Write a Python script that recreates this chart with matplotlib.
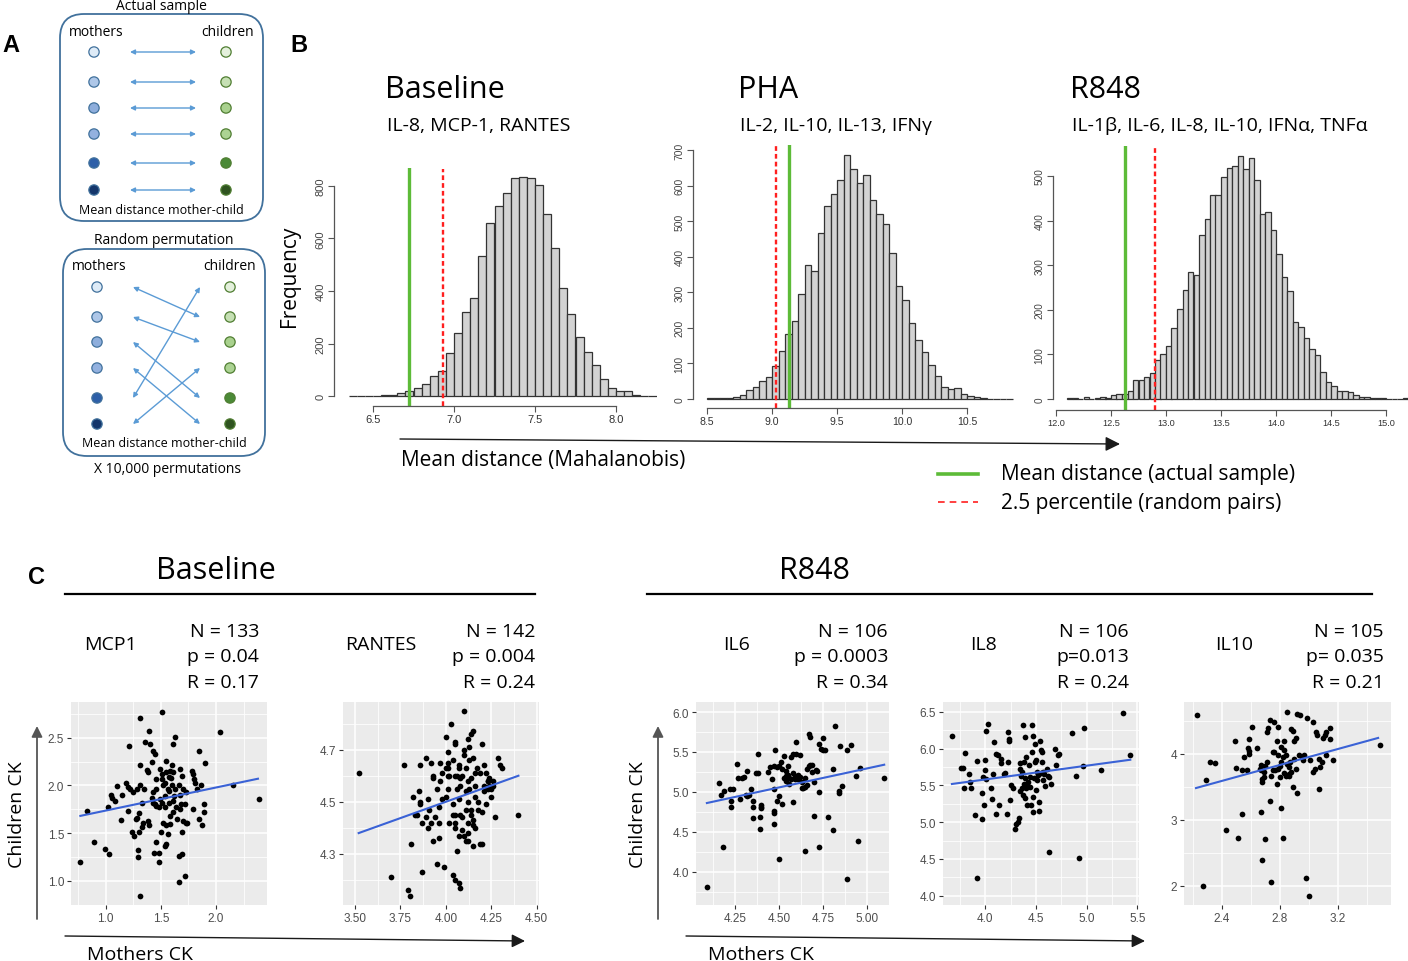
import numpy as np
import matplotlib.pyplot as plt
from matplotlib.patches import FancyBboxPatch
from matplotlib.ticker import AutoMinorLocator

# ---------------- panel B: permutation histograms (bin width 0.05) ----------------
bin_w = 0.05

base_start = 6.35
base_counts = [0, 0, 0, 1, 2, 4, 10, 20, 32, 45, 78, 97, 165, 240, 320, 372, 535, 660, 722, 772,
               830, 836, 832, 805, 692, 565, 410, 312, 226, 167, 120, 63, 30, 20, 20, 5, 0, 0]
base_green, base_red = 6.72, 6.93

pha_start = 8.50
pha_counts = [2, 2, 4, 4, 6, 12, 25, 33, 50, 62, 92, 135, 182, 220, 295, 377, 360, 467, 543, 575,
              615, 685, 648, 607, 630, 560, 520, 493, 410, 317, 277, 215, 167, 132, 97, 65, 35, 28,
              30, 14, 9, 6, 2, 1, 1, 1, 1]
pha_green, pha_red = 9.13, 9.03

r848_start = 12.10
r848_counts = [1, 1, 0, 4, 0, 2, 4, 3, 8, 11, 12, 18, 42, 42, 48, 59, 88, 100, 118, 160,
               202, 244, 285, 278, 367, 404, 458, 457, 498, 519, 522, 545, 516, 540, 490, 415, 419,
               378, 325, 274, 241, 172, 162, 137, 112, 98, 60, 38, 29, 17, 17, 15, 9, 4, 4, 2, 1,
               2, 0, 0, 0, 1]
r848_green, r848_red = 12.63, 12.90

# ---------------- panel C: mother vs child cytokines ----------------
mcp1_m = [0.77, 0.83, 0.89, 0.99, 1.03, 1.02, 1.05, 1.06, 1.08, 1.10,
          1.15, 1.14, 1.18, 1.20, 1.21, 1.22, 1.20, 1.24, 1.25, 1.26,
          1.27, 1.28, 1.28, 1.29, 1.29, 1.30, 1.31, 1.31, 1.31, 1.31,
          1.30, 1.33, 1.35, 1.36, 1.39, 1.37, 1.38, 1.38, 1.39, 1.40,
          1.42, 1.43, 1.43, 1.44, 1.45, 1.46, 1.46, 1.46, 1.48, 1.48,
          1.49, 1.50, 1.51, 1.51, 1.51, 1.52, 1.54, 1.54, 1.52, 1.55,
          1.55, 1.55, 1.56, 1.57, 1.57, 1.54, 1.55, 1.56, 1.58, 1.58,
          1.59, 1.58, 1.60, 1.61, 1.61, 1.62, 1.63, 1.63, 1.64, 1.65,
          1.66, 1.67, 1.67, 1.66, 1.66, 1.68, 1.69, 1.69, 1.70, 1.70,
          1.72, 1.73, 1.73, 1.74, 1.78, 1.79, 1.79, 1.80, 1.81, 1.83,
          1.85, 1.85, 1.86, 1.87, 1.89, 1.89, 1.90, 2.04, 2.15, 2.39,
          1.43, 1.46, 1.49, 1.42, 1.61, 1.60, 1.54, 1.51, 1.45, 1.48,
          1.57, 1.61, 1.67, 1.72, 1.34, 1.33, 1.69]
mcp1_c = [1.20, 1.73, 1.41, 1.33, 1.28, 1.77, 1.90, 1.87, 1.84, 1.99,
          1.90, 1.64, 2.02, 1.98, 2.41, 1.96, 1.73, 1.51, 1.93, 1.47,
          1.65, 1.96, 1.66, 1.32, 1.25, 1.71, 2.71, 2.21, 2.00, 0.84,
          1.51, 1.82, 1.96, 2.46, 2.57, 2.16, 2.14, 1.63, 1.58, 2.43,
          2.25, 2.36, 1.82, 1.29, 2.33, 2.07, 1.78, 1.41, 1.29, 1.20,
          2.17, 1.51, 2.12, 2.77, 2.07, 2.00, 2.03, 1.89, 1.61, 1.58,
          2.26, 2.14, 1.96, 2.09, 1.82, 1.36, 1.39, 1.49, 1.68, 2.15,
          2.08, 1.59, 2.00, 1.72, 2.43, 1.89, 2.51, 1.96, 1.77, 1.65,
          2.00, 2.17, 1.90, 1.26, 0.99, 1.80, 1.28, 1.51, 1.63, 1.96,
          1.05, 1.61, 1.93, 1.61, 2.15, 2.12, 1.75, 2.07, 2.03, 1.96,
          2.36, 1.65, 2.00, 1.58, 1.80, 1.72, 2.23, 2.56, 2.00, 1.86,
          1.93, 1.96, 1.86, 1.87, 2.14, 2.21, 1.77, 1.82, 1.80, 1.77,
          1.94, 1.84, 1.75, 1.80, 1.61, 1.56, 2.10]
mcp1_fit_x, mcp1_fit_y = [0.77, 2.38], [1.68, 2.07]

rantes_m = [3.52, 3.70, 3.77, 3.79, 3.80, 3.81, 3.82, 3.83, 3.84, 3.85,
            3.86, 3.86, 3.86, 3.87, 3.87, 3.89, 3.89, 3.90, 3.90, 3.91,
            3.92, 3.92, 3.93, 3.93, 3.93, 3.94, 3.95, 3.95, 3.96, 3.96,
            3.96, 3.97, 3.97, 3.98, 3.98, 3.99, 4.00, 4.00, 4.00, 4.01,
            4.01, 4.01, 4.01, 4.01, 4.02, 4.02, 4.03, 4.04, 4.04, 4.04,
            4.04, 4.05, 4.05, 4.05, 4.05, 4.05, 4.05, 4.05, 4.06, 4.06,
            4.06, 4.07, 4.07, 4.07, 4.07, 4.07, 4.08, 4.08, 4.08, 4.08,
            4.09, 4.09, 4.09, 4.10, 4.10, 4.10, 4.10, 4.11, 4.11, 4.11,
            4.11, 4.12, 4.12, 4.12, 4.12, 4.12, 4.12, 4.13, 4.13, 4.13,
            4.14, 4.14, 4.14, 4.14, 4.15, 4.15, 4.15, 4.15, 4.15, 4.16,
            4.16, 4.16, 4.16, 4.17, 4.18, 4.18, 4.19, 4.19, 4.20, 4.20,
            4.20, 4.21, 4.21, 4.21, 4.22, 4.22, 4.23, 4.23, 4.23, 4.24,
            4.24, 4.25, 4.25, 4.26, 4.26, 4.27, 4.29, 4.30, 4.31, 4.40]
rantes_c = [4.61, 4.21, 4.64, 4.16, 4.14, 4.34, 4.52, 4.45, 4.45, 4.54,
            4.64, 4.50, 4.49, 4.42, 4.23, 4.67, 4.44, 4.51, 4.40, 4.47,
            4.65, 4.42, 4.60, 4.59, 4.35, 4.44, 4.55, 4.26, 4.48, 4.42,
            4.36, 4.58, 4.65, 4.61, 4.51, 4.25, 4.52, 4.63, 4.75, 4.69,
            4.60, 4.65, 4.55, 4.63, 4.42, 4.60, 4.80, 4.49, 4.22, 4.66,
            4.45, 4.73, 4.60, 4.40, 4.45, 4.20, 4.72, 4.42, 4.55, 4.60,
            4.31, 4.37, 4.63, 4.19, 4.51, 4.64, 4.59, 4.17, 4.45, 4.56,
            4.39, 4.60, 4.44, 4.37, 4.70, 4.85, 4.68, 4.54, 4.47, 4.63,
            4.35, 4.58, 4.50, 4.38, 4.42, 4.74, 4.35, 4.71, 4.66, 4.55,
            4.47, 4.76, 4.59, 4.45, 4.67, 4.33, 4.77, 4.43, 4.41, 4.52,
            4.40, 4.56, 4.61, 4.63, 4.50, 4.47, 4.34, 4.61, 4.46, 4.34,
            4.72, 4.56, 4.64, 4.54, 4.61, 4.49, 4.58, 4.55, 4.58, 4.59,
            4.56, 4.55, 4.52, 4.56, 4.58, 4.44, 4.67, 4.64, 4.63, 4.45]
rantes_fit_x, rantes_fit_y = [3.52, 4.40], [4.38, 4.60]

il6_m = [4.09, 4.16, 4.17, 4.18, 4.19, 4.22, 4.23, 4.23, 4.24, 4.26,
         4.27, 4.28, 4.29, 4.30, 4.31, 4.32, 4.32, 4.33, 4.34, 4.35,
         4.35, 4.35, 4.37, 4.38, 4.38, 4.39, 4.39, 4.40, 4.40, 4.40,
         4.44, 4.45, 4.46, 4.47, 4.47, 4.47, 4.47, 4.47, 4.48, 4.49,
         4.49, 4.50, 4.50, 4.50, 4.51, 4.52, 4.52, 4.53, 4.53, 4.54,
         4.54, 4.54, 4.55, 4.55, 4.56, 4.56, 4.57, 4.57, 4.58, 4.58,
         4.58, 4.59, 4.59, 4.60, 4.60, 4.61, 4.61, 4.62, 4.62, 4.63,
         4.63, 4.64, 4.65, 4.65, 4.65, 4.66, 4.66, 4.67, 4.67, 4.68,
         4.68, 4.69, 4.69, 4.70, 4.70, 4.71, 4.72, 4.73, 4.73, 4.73,
         4.74, 4.75, 4.75, 4.76, 4.78, 4.81, 4.81, 4.82, 4.84, 4.84,
         4.85, 4.86, 4.89, 4.89, 4.91, 4.94, 4.95, 4.96, 5.10]
il6_c = [3.81, 5.11, 4.96, 4.31, 5.01, 5.03, 4.88, 4.81, 5.04, 5.35,
         5.17, 4.91, 5.17, 5.18, 4.96, 5.26, 4.95, 4.96, 5.04, 4.89,
         4.81, 4.67, 5.24, 5.48, 5.23, 4.68, 4.54, 4.81, 4.84, 4.80,
         5.25, 5.31, 5.16, 5.03, 4.60, 4.76, 4.74, 5.32, 5.53, 4.88,
         5.31, 4.16, 4.95, 5.32, 5.37, 4.85, 5.29, 5.45, 5.17, 5.20,
         5.26, 5.13, 5.21, 5.32, 5.17, 5.10, 5.44, 5.16, 5.48, 4.87,
         5.23, 5.20, 5.16, 5.48, 5.63, 5.16, 5.21, 5.18, 5.46, 5.05,
         5.12, 5.05, 5.17, 4.26, 5.06, 5.09, 5.29, 5.72, 5.32, 5.69,
         5.34, 5.25, 5.34, 5.12, 4.70, 5.27, 5.26, 5.60, 4.31, 5.00,
         5.54, 5.68, 5.52, 5.53, 4.68, 5.29, 4.52, 5.82, 5.01, 4.99,
         5.57, 5.07, 5.52, 3.91, 5.59, 5.20, 4.38, 5.30, 5.17]
il6_fit_x, il6_fit_y = [4.09, 5.10], [4.86, 5.34]

il8_m = [3.67, 3.76, 3.78, 3.79, 3.80, 3.84, 3.85, 3.86, 3.90, 3.92,
         3.92, 3.97, 3.97, 3.98, 3.99, 4.00, 4.00, 4.01, 4.01, 4.03,
         4.06, 4.07, 4.08, 4.09, 4.10, 4.10, 4.12, 4.13, 4.15, 4.15,
         4.18, 4.19, 4.21, 4.22, 4.22, 4.23, 4.23, 4.24, 4.25, 4.27,
         4.29, 4.30, 4.32, 4.33, 4.34, 4.34, 4.34, 4.35, 4.36, 4.36,
         4.37, 4.37, 4.38, 4.38, 4.39, 4.39, 4.39, 4.40, 4.40, 4.41,
         4.41, 4.42, 4.43, 4.44, 4.44, 4.45, 4.46, 4.46, 4.47, 4.47,
         4.47, 4.48, 4.49, 4.49, 4.50, 4.50, 4.51, 4.51, 4.52, 4.53,
         4.53, 4.54, 4.55, 4.55, 4.56, 4.56, 4.57, 4.57, 4.58, 4.59,
         4.61, 4.62, 4.63, 4.63, 4.65, 4.69, 4.70, 4.72, 4.73, 4.85,
         4.89, 4.92, 4.96, 4.97, 5.14, 5.36, 5.43]
il8_c = [6.17, 5.74, 5.74, 5.46, 5.94, 5.65, 5.55, 5.46, 5.10, 4.24,
         5.83, 5.05, 5.40, 5.61, 5.23, 5.85, 5.71, 5.59, 6.24, 6.34,
         5.46, 5.32, 5.65, 6.09, 5.11, 5.93, 5.91, 5.23, 5.86, 5.80,
         5.66, 5.67, 5.11, 5.82, 6.23, 6.10, 6.13, 5.30, 5.51, 5.46,
         4.91, 4.98, 5.00, 5.06, 5.80, 5.43, 5.73, 5.63, 5.68, 5.46,
         6.32, 5.37, 5.52, 5.82, 5.33, 6.16, 5.60, 5.89, 5.46, 5.23,
         5.50, 5.55, 5.78, 5.61, 5.48, 5.23, 6.32, 5.96, 6.18, 5.34,
         5.14, 5.60, 6.06, 5.82, 5.44, 5.84, 5.68, 5.57, 5.64, 5.15,
         5.28, 6.11, 5.67, 5.98, 5.96, 5.82, 5.69, 5.57, 5.66, 5.49,
         5.72, 5.63, 4.59, 5.61, 5.52, 6.00, 5.78, 5.91, 5.93, 6.21,
         5.63, 4.51, 5.76, 6.28, 5.71, 6.48, 5.91]
il8_fit_x, il8_fit_y = [3.67, 5.43], [5.52, 5.85]

il10_m = [2.23, 2.27, 2.29, 2.32, 2.35, 2.43, 2.49, 2.50, 2.51, 2.54,
          2.54, 2.55, 2.57, 2.58, 2.59, 2.59, 2.59, 2.61, 2.64, 2.66,
          2.67, 2.67, 2.67, 2.68, 2.68, 2.68, 2.69, 2.69, 2.70, 2.70,
          2.71, 2.71, 2.72, 2.73, 2.73, 2.74, 2.74, 2.75, 2.75, 2.76,
          2.76, 2.77, 2.78, 2.78, 2.79, 2.79, 2.79, 2.80, 2.80, 2.81,
          2.81, 2.81, 2.82, 2.82, 2.83, 2.83, 2.83, 2.84, 2.84, 2.85,
          2.85, 2.86, 2.86, 2.86, 2.87, 2.88, 2.88, 2.89, 2.89, 2.90,
          2.90, 2.91, 2.91, 2.92, 2.92, 2.93, 2.94, 2.95, 2.96, 2.97,
          2.98, 2.99, 3.00, 3.01, 3.03, 3.03, 3.04, 3.05, 3.06, 3.07,
          3.07, 3.08, 3.09, 3.10, 3.11, 3.12, 3.12, 3.15, 3.15, 3.17,
          3.49]
il10_c = [4.59, 1.99, 3.60, 3.88, 3.86, 2.85, 4.20, 3.79, 2.72, 3.09,
          3.75, 3.95, 3.76, 4.08, 4.22, 4.04, 4.00, 4.41, 4.08, 3.77,
          3.83, 3.75, 3.12, 3.62, 3.57, 2.39, 3.65, 3.73, 3.82, 2.70,
          3.88, 4.33, 4.39, 4.51, 3.29, 2.06, 3.66, 3.75, 4.03, 4.03,
          4.48, 3.75, 3.54, 4.19, 4.41, 3.77, 3.98, 3.82, 3.65, 3.87,
          4.10, 3.18, 2.72, 3.95, 4.20, 3.71, 4.05, 3.98, 3.67, 3.85,
          4.63, 3.70, 3.80, 3.66, 3.87, 4.38, 3.72, 4.34, 3.49, 3.92,
          4.20, 4.24, 3.77, 4.61, 3.41, 3.98, 4.59, 3.95, 3.90, 3.98,
          2.11, 4.54, 1.84, 3.90, 4.48, 3.73, 3.77, 4.33, 4.29, 3.47,
          3.92, 3.80, 3.87, 4.24, 4.28, 4.33, 3.98, 4.39, 4.23, 3.90,
          4.14]
il10_fit_x, il10_fit_y = [2.22, 3.48], [3.48, 4.24]

stats_labels = ["MCP1", "RANTES", "IL6", "IL8", "IL10"]
stats_text = [["N = 133", "p = 0.04", "R = 0.17"],
              ["N = 142", "p = 0.004", "R = 0.24"],
              ["N = 106", "p = 0.0003", "R = 0.34"],
              ["N = 106", "p=0.013", "R = 0.24"],
              ["N = 105", "p= 0.035", "R = 0.21"]]

plt.rcParams['font.family'] = ['Open Sans', 'DejaVu Sans']
W, H = 1408, 962
fig = plt.figure(figsize=(W / 100, H / 100), dpi=100)


def px_axes(l, t, r, b):
    return fig.add_axes([l / W, 1 - b / H, (r - l) / W, (b - t) / H])


def hist_panel(box, start, counts, green, red, xlim, ylim, xticks, yticks, left_out, xsize, ysize):
    ax = px_axes(*box)
    ax.patch.set_alpha(0)
    # spine position first: it resets the tick labels
    for s in ['top', 'right']:
        ax.spines[s].set_visible(False)
    ax.spines['left'].set_position(('outward', left_out))
    ax.spines['left'].set_bounds(yticks[0], yticks[-1])
    ax.spines['bottom'].set_bounds(xticks[0], xticks[-1])
    for s in ['left', 'bottom']:
        ax.spines[s].set_color('#555555')
        ax.spines[s].set_linewidth(0.9)
    lefts = start + bin_w * np.arange(len(counts))
    ax.bar(lefts, counts, width=bin_w, align='edge', color='#d3d3d3',
           edgecolor='#333333', linewidth=0.9)
    ax.axvline(green, ymin=0, ymax=0.995, color='#5dbb38', lw=2.4)
    ax.axvline(red, ymin=0, ymax=0.995, color='#ff1f1f', lw=1.7, ls=(0, (2, 1.3)))
    ax.set_xlim(xlim)
    ax.set_ylim(ylim)
    ax.set_xticks(xticks)
    ax.set_xticklabels([f"{v:.1f}" for v in xticks], fontsize=xsize,
                       family='Liberation Sans', color='#333333')
    ax.set_yticks(yticks)
    ax.set_yticklabels([str(v) for v in yticks], rotation=90, va='center',
                       fontsize=ysize, family='Liberation Sans', color='#444444')
    ax.tick_params(length=4, width=0.8, color='#555555', pad=2)
    return ax


hist_panel((348.7, 168.6, 656.5, 407), base_start, base_counts, base_green, base_red,
           (6.35, 8.25), (-38, 870), [6.5, 7.0, 7.5, 8.0], [0, 200, 400, 600, 800], 10.5, 8, 8)
hist_panel((700.5, 145.7, 1019, 408.9), pha_start, pha_counts, pha_green, pha_red,
           (8.45, 10.9), (-25, 715), [8.5, 9.0, 9.5, 10.0, 10.5],
           [0, 100, 200, 300, 400, 500, 600, 700], 5.4, 7.6, 7.4)
hist_panel((1056, 146.7, 1408, 411), r848_start, r848_counts, r848_green, r848_red,
           (12.0, 15.2), (-25, 568), [12.0, 12.5, 13.0, 13.5, 14.0, 14.5, 15.0],
           [0, 100, 200, 300, 400, 500], 2.2, 6.6, 7.2)


def scatter_panel(box, x, y, fx, fy, xlim, ylim, xticks, yticks, xfmt, yfmt):
    ax = px_axes(*box)
    ax.set_facecolor('#ebebeb')
    ax.set_xlim(xlim)
    ax.set_ylim(ylim)
    ax.set_xticks(xticks)
    ax.set_yticks(yticks)
    ax.set_xticklabels([xfmt.format(v) for v in xticks])
    ax.set_yticklabels([yfmt.format(v) for v in yticks])
    ax.xaxis.set_minor_locator(AutoMinorLocator(2))
    ax.yaxis.set_minor_locator(AutoMinorLocator(2))
    ax.grid(which='major', color='white', lw=1.1)
    ax.grid(which='minor', color='white', lw=0.55)
    ax.set_axisbelow(True)
    for s in ax.spines.values():
        s.set_visible(False)
    ax.tick_params(which='minor', length=0)
    ax.tick_params(which='major', length=3, width=0.8, color='#333333',
                   labelsize=8.5, labelcolor='#4d4d4d', pad=2)
    for lab in ax.get_xticklabels() + ax.get_yticklabels():
        lab.set_family('Liberation Sans')
    ax.scatter(x, y, s=17, c='black', linewidths=0, zorder=3)
    ax.plot(fx, fy, color='#3a62d6', lw=1.5, zorder=4)
    return ax


scatter_panel((71, 703, 267, 906), mcp1_m, mcp1_c, mcp1_fit_x, mcp1_fit_y,
              (0.685, 2.462), (0.745, 2.875), [1.0, 1.5, 2.0], [1.0, 1.5, 2.0, 2.5],
              "{:.1f}", "{:.1f}")
scatter_panel((342.7, 703, 539.3, 906), rantes_m, rantes_c, rantes_fit_x, rantes_fit_y,
              (3.432, 4.515), (4.104, 4.883), [3.5, 3.75, 4.0, 4.25, 4.5], [4.3, 4.5, 4.7],
              "{:.2f}", "{:.1f}")
scatter_panel((696, 703, 889.3, 906), il6_m, il6_c, il6_fit_x, il6_fit_y,
              (4.028, 5.129), (3.582, 6.126), [4.25, 4.5, 4.75, 5.0], [4.0, 4.5, 5.0, 5.5, 6.0],
              "{:.2f}", "{:.1f}")
scatter_panel((942.7, 703, 1138.7, 906), il8_m, il8_c, il8_fit_x, il8_fit_y,
              (3.579, 5.513), (3.873, 6.636), [4.0, 4.5, 5.0, 5.5],
              [4.0, 4.5, 5.0, 5.5, 6.0, 6.5], "{:.1f}", "{:.1f}")
scatter_panel((1184, 703, 1390.7, 906), il10_m, il10_c, il10_fit_x, il10_fit_y,
              (2.137, 3.567), (1.706, 4.785), [2.4, 2.8, 3.2], [2, 3, 4],
              "{:.1f}", "{:.0f}")

# ---------------- overlay: schematic, titles, annotations ----------------
ov = fig.add_axes([0, 0, 1, 1], zorder=10)
ov.set_xlim(0, W)
ov.set_ylim(H, 0)
ov.axis('off')
ov.patch.set_alpha(0)

lab_font = dict(family='Liberation Sans', weight='bold', fontsize=17, va='center')
ov.text(2, 45, "A", **lab_font)
ov.text(290, 45, "B", **lab_font)
ov.text(28, 578, "C", **lab_font)

# panel A schematic
mother_cols = ['#deebf7', '#aec7e8', '#8eaedc', '#93b1df', '#2d5fa8', '#14366b']
child_cols = ['#e4f0dc', '#c6e0b4', '#a9d18e', '#acd393', '#4b8a37', '#2f5320']
arrow_col = '#5b9bd5'
box_specs = [(60, 15, 263, 222, 94, 226, [53, 83, 109, 135, 164, 191], 161, "Actual sample", 6, 211),
             (63, 250, 265, 457, 97, 230, [288, 318, 343, 369, 399, 425], 164, "Random permutation", 241, 444)]
pairs = [[0, 1, 2, 3, 4, 5], [1, 2, 4, 5, 0, 3]]
for (l, t, r, b, mx, cx, ys, cxt, title, ty, my), pr in zip(box_specs, pairs):
    ov.add_patch(FancyBboxPatch((l, t), r - l, b - t, boxstyle='round,pad=0,rounding_size=24',
                                fc='none', ec='#41719c', lw=1.3))
    ov.text(cxt, ty, title, ha='center', va='center', fontsize=10)
    ov.text(l + 9, t + 17, "mothers", ha='left', va='center', fontsize=10)
    ov.text(r - 9, t + 17, "children", ha='right', va='center', fontsize=10)
    ov.text(cxt, my, "Mean distance mother-child", ha='center', va='center', fontsize=9)
    ov.scatter([mx] * 6, ys, s=55, c=mother_cols, edgecolors='#41719c', linewidths=0.9, zorder=3)
    ov.scatter([cx] * 6, ys, s=55, c=child_cols, edgecolors='#507e32', linewidths=0.9, zorder=3)
    for i, j in enumerate(pr):
        ov.annotate('', xy=(cx - 30, ys[j]), xytext=(mx + 36, ys[i]),
                    arrowprops=dict(arrowstyle='<|-|>', color=arrow_col, lw=1.0,
                                    mutation_scale=7, shrinkA=0, shrinkB=0))
ov.text(168, 470, "X 10,000 permutations", ha='center', va='center', fontsize=10)

# panel B titles
for x0, title, sub in [(387, "Baseline", "IL-8, MCP-1, RANTES"),
                       (740, "PHA", "IL-2, IL-10, IL-13, IFNγ"),
                       (1072, "R848", "IL-1β, IL-6, IL-8, IL-10, IFNα, TNFα")]:
    ov.text(x0 - 2, 90, title, ha='left', va='center', fontsize=22)
    ov.text(x0, 126, sub, ha='left', va='center', fontsize=14)
ov.text(290, 276, "Frequency", rotation=90, ha='center', va='center', fontsize=15)
ov.text(401, 461, "Mean distance (Mahalanobis)", ha='left', va='center', fontsize=15)
ov.annotate('', xy=(1120, 445), xytext=(400, 440),
            arrowprops=dict(arrowstyle='-|>', color='#1a1a1a', lw=1.0,
                            mutation_scale=22, shrinkA=0, shrinkB=0))
ov.plot([938, 978], [475, 475], color='#5dbb38', lw=2.6)
ov.plot([938, 978], [503, 503], color='#ff1f1f', lw=1.2, ls=(0, (4, 3)))
ov.text(1001, 475, "Mean distance (actual sample)", ha='left', va='center', fontsize=15)
ov.text(1001, 504, "2.5 percentile (random pairs)", ha='left', va='center', fontsize=15)

# panel C headers
ov.text(216, 571, "Baseline", ha='center', va='center', fontsize=22)
ov.plot([65, 535], [595, 595], color='black', lw=1.6)
ov.text(815, 571, "R848", ha='center', va='center', fontsize=22)
ov.plot([647, 1372], [595, 595], color='black', lw=1.6)

name_x = [84, 345, 723, 970, 1215]
stat_x = [259, 535, 888, 1129, 1384]
for name, sx, nx, lines in zip(stats_labels, stat_x, name_x, stats_text):
    ov.text(nx, 645, name, ha='left', va='center', fontsize=14)
    for k, line in enumerate(lines):
        ov.text(sx, 632 + 25.5 * k, line, ha='right', va='center', fontsize=14)

for x_start, x_end, y_x in [(65, 525, 37), (686, 1145, 658)]:
    ov.annotate('', xy=(x_end, 942), xytext=(x_start, 937),
                arrowprops=dict(arrowstyle='-|>', color='#1a1a1a', lw=1.0,
                                mutation_scale=20, shrinkA=0, shrinkB=0))
    ov.annotate('', xy=(y_x, 727), xytext=(y_x, 920),
                arrowprops=dict(arrowstyle='-|>', color='#555555', lw=1.3,
                                mutation_scale=16, shrinkA=0, shrinkB=0))
    ov.text(y_x - 20, 815, "Children CK", rotation=90, ha='center', va='center', fontsize=14)
    ov.text(x_start + 22, 955, "Mothers CK", ha='left', va='center', fontsize=14)

fig.savefig("out.png", dpi=100)
